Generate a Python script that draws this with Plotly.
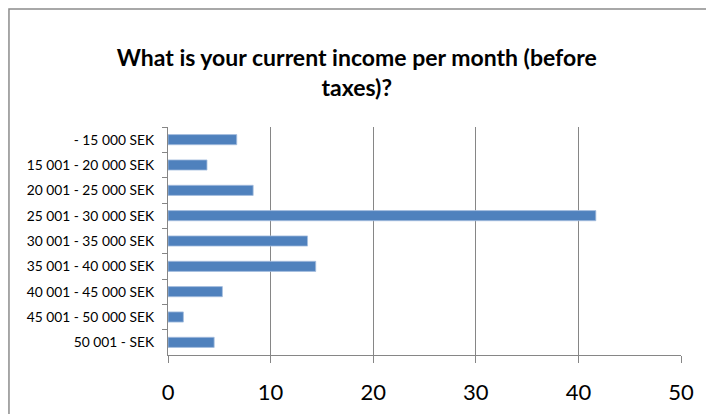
import plotly.graph_objects as go

# survey answers, share of respondents (%)
categories = [
    "- 15 000 SEK",
    "15 001 - 20 000 SEK",
    "20 001 - 25 000 SEK",
    "25 001 - 30 000 SEK",
    "30 001 - 35 000 SEK",
    "35 001 - 40 000 SEK",
    "40 001 - 45 000 SEK",
    "45 001 - 50 000 SEK",
    "50 001 - SEK",
]
shares = [6.7, 3.8, 8.3, 41.7, 13.6, 14.4, 5.3, 1.5, 4.5]
x_ticks = [0, 10, 20, 30, 40, 50]

TITLE = "What is your current income per month (before<br>taxes)?"
BAR_BLUE = "#4f81bd"
GRID_GREY = "#868686"

fig = go.Figure(
    go.Bar(
        x=shares,
        y=categories,
        orientation="h",
        marker=dict(color=BAR_BLUE, line=dict(color="#a7bfde", width=0.8)),
        hoverinfo="x+y",
    )
)

# page body has an 8px margin, so the figure is a bit smaller than the window
fig.update_layout(
    width=706,
    height=406,
    paper_bgcolor="white",
    plot_bgcolor="white",
    showlegend=False,
    bargap=0.6,
    margin=dict(l=160, r=33, t=119, b=59),
    font=dict(family="Lato, sans-serif", color="black"),
    title=dict(
        text=TITLE,
        x=0.494,
        xref="container",
        xanchor="center",
        y=0.858,
        yref="container",
        yanchor="middle",
        font=dict(size=23, family="Lato, sans-serif", color="black", weight="bold"),
    ),
    shapes=[
        # chart frame, cropped at right/bottom like the screenshot
        dict(
            type="rect",
            xref="paper",
            yref="paper",
            x0=-0.31,
            x1=1.2,
            y0=-0.5,
            y1=1.5175,
            line=dict(color="#8c8c8c", width=1.5),
            fillcolor="rgba(0,0,0,0)",
            layer="below",
        )
    ],
)

fig.update_xaxes(
    range=[0, 50],
    tickvals=x_ticks,
    automargin=False,
    showgrid=True,
    gridcolor=GRID_GREY,
    gridwidth=1.4,
    zeroline=False,
    showline=True,
    linecolor=GRID_GREY,
    linewidth=1.4,
    ticks="outside",
    ticklen=7,
    tickcolor=GRID_GREY,
    tickwidth=1.4,
    ticklabelstandoff=10,
    tickfont=dict(size=22, family="Lato, sans-serif", color="black"),
)

fig.update_yaxes(
    autorange="reversed",
    automargin=False,
    showgrid=False,
    showline=True,
    linecolor=GRID_GREY,
    linewidth=1.4,
    ticks="outside",
    tickson="boundaries",
    ticklen=5,
    tickcolor=GRID_GREY,
    tickwidth=1.4,
    ticklabelstandoff=10,
    tickfont=dict(size=13.8, family="Lato, sans-serif", color="black"),
)

fig.write_html("out.html")
